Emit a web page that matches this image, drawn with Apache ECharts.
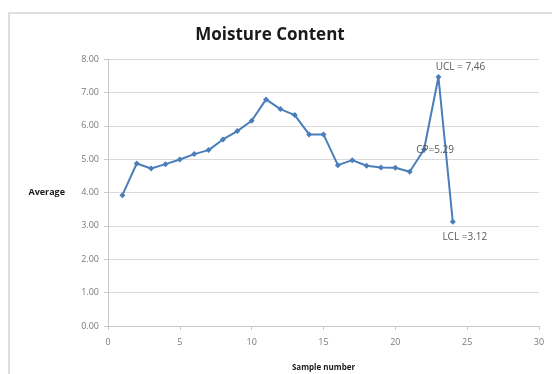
<!DOCTYPE html>
<html>
<head>
<meta charset="utf-8">
<script src="https://cdn.jsdelivr.net/npm/echarts@6/dist/echarts.min.js"></script>
<style>
  html, body { margin: 0; padding: 0; background: #fff; }
  #chart { width: 552px; height: 374px; }
</style>
</head>
<body>
<div id="chart"></div>
<script>
// Sample numbers and the average moisture content of each sample
const sampleNumbers = [1, 2, 3, 4, 5, 6, 7, 8, 9, 10, 11, 12, 13, 14, 15, 16, 17, 18, 19, 20, 21, 22, 23, 24];
const averages = [3.92, 4.87, 4.72, 4.85, 4.99, 5.15, 5.27, 5.59, 5.84, 6.15, 6.79, 6.50, 6.32, 5.74, 5.74, 4.82, 4.97, 4.80, 4.75, 4.74, 4.62, 5.29, 7.46, 3.12];
// Control-chart annotations attached to specific samples
const controlLabels = { 22: 'CP=5.29', 23: 'UCL = 7,46', 24: 'LCL =3.12' };
const xTicks = [0, 5, 10, 15, 20, 25, 30];
const yTicks = [0, 1, 2, 3, 4, 5, 6, 7, 8];

const labelPlacement = {
  22: { position: 'inside', offset: [11, 1] },
  23: { position: 'top', offset: [22, 3] },
  24: { position: 'bottom', offset: [12, 2] }
};

const seriesData = sampleNumbers.map((x, i) => {
  const item = { value: [x, averages[i]] };
  if (controlLabels[x]) {
    item.label = Object.assign({
      show: true,
      formatter: controlLabels[x],
      color: '#595959',
      fontSize: 10,
      fontFamily: 'Open Sans'
    }, labelPlacement[x]);
  }
  return item;
});

const chart = echarts.init(document.getElementById('chart'), null, { renderer: 'canvas' });
chart.setOption({
  animation: false,
  backgroundColor: '#ffffff',
  title: {
    text: 'Moisture Content',
    left: 265,
    top: 22,
    textAlign: 'center',
    textStyle: { fontFamily: 'Open Sans', fontWeight: 'bold', fontSize: 17, color: '#1a1a1a' }
  },
  graphic: [{
    type: 'rect',
    shape: { x: 9, y: 13, width: 600, height: 420 },
    style: { fill: 'none', stroke: '#d4d4d4', lineWidth: 1.5 },
    silent: true
  }],
  grid: { left: 108, right: 13, top: 59, bottom: 48, outerBoundsMode: 'none' },
  xAxis: {
    type: 'value',
    min: xTicks[0],
    max: xTicks[xTicks.length - 1],
    interval: 5,
    name: 'Sample number',
    nameLocation: 'middle',
    nameGap: 38,
    nameTextStyle: { fontFamily: 'Open Sans', fontWeight: 'bold', fontSize: 8, color: '#1a1a1a' },
    axisLine: { lineStyle: { color: '#c8c8c8', width: 1 } },
    axisTick: { show: true, length: 4, lineStyle: { color: '#c8c8c8' } },
    axisLabel: { color: '#7a7a7a', fontSize: 9, fontFamily: 'Open Sans', margin: 12 },
    splitLine: { show: false }
  },
  yAxis: {
    type: 'value',
    min: yTicks[0],
    max: yTicks[yTicks.length - 1],
    interval: 1,
    name: 'Average',
    nameLocation: 'middle',
    nameGap: 43,
    nameRotate: 0,
    nameTextStyle: { fontFamily: 'Open Sans', fontWeight: 'bold', fontSize: 9, color: '#1a1a1a' },
    axisLine: { show: true, lineStyle: { color: '#c8c8c8', width: 1 } },
    axisTick: { show: true, length: 4, lineStyle: { color: '#c8c8c8' } },
    axisLabel: { color: '#7a7a7a', fontSize: 9, fontFamily: 'Open Sans', margin: 9, formatter: v => v.toFixed(2) },
    splitLine: { show: true, lineStyle: { color: '#d9d9d9', width: 1 } }
  },
  series: [{
    type: 'line',
    data: seriesData,
    symbol: 'diamond',
    symbolSize: 6,
    itemStyle: { color: '#4a7ebb' },
    lineStyle: { color: '#4a7ebb', width: 2 }
  }]
});
</script>
</body>
</html>
